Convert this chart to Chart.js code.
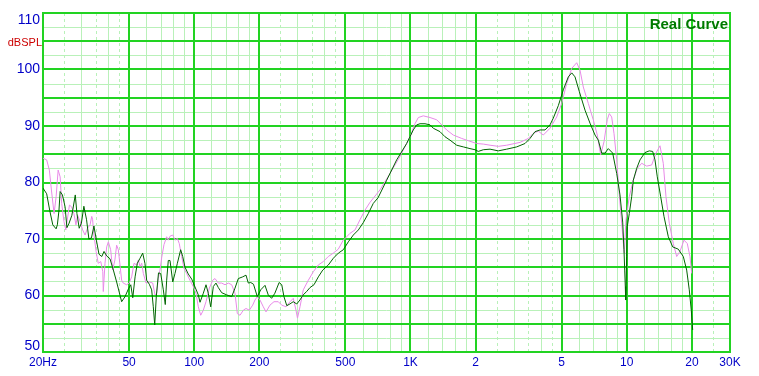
<!DOCTYPE html>
<html>
<head>
<meta charset="utf-8">
<script src="https://cdn.jsdelivr.net/npm/chart.js@4"></script>
<style>
  html, body { margin: 0; padding: 0; background: #fff; }
  #wrap { width: 759px; height: 376px; }
</style>
</head>
<body>
<div id="wrap"><canvas id="grafico" width="759" height="376"></canvas></div>
<script>
// curva verde (escura)
const greenFreq = [
  20, 20.8, 21.5, 22.2, 23.0, 23.3, 23.7, 24.0, 24.6, 25.3,
  25.8, 26.4, 27.2, 28.2, 28.7, 29.4, 30.1, 30.9, 31.8, 32.6,
  33.5, 34.4, 35.3, 36.3, 37.4, 38.3, 39.4, 40.8, 42.3, 43.8,
  46.2, 47.9, 49.7, 50.9, 52.0, 53.3, 54.6, 56.2, 57.8, 59.2,
  60.3, 62.0, 63.6, 64.7, 65.7, 66.8, 68.4, 70.0, 72.0, 73.5,
  74.6, 75.9, 77.3, 79.6, 81.5, 83.6, 86.6, 88.5, 90.7, 93.9,
  97.4, 100.9, 104.5, 106.4, 110.2, 113.4, 116.2, 119.2, 122.6, 126.1,
  129.3, 134.0, 141.4, 149.1, 154.4, 160.0, 167.6, 173.6, 177.9, 182.5,
  188.0, 195.8, 203, 212.5, 220, 228, 236, 247, 254, 260,
  268, 277, 287, 298, 308, 319, 331, 343, 358, 375,
  393, 417, 440, 464, 489, 516, 544, 574, 605, 638,
  673, 708, 776, 863, 960, 1030, 1068, 1107, 1167, 1231,
  1275, 1369, 1444, 1523, 1635, 1755, 1884, 1987, 2058, 2171,
  2332, 2546, 2784, 3097, 3384, 3569, 3764, 3970, 4187, 4416,
  4574, 4824, 5088, 5366, 5566, 5762, 6032, 6410, 6760, 7130,
  7384, 7656, 7930, 8212, 8606, 8982, 9302, 9572, 9706, 9780,
  9840, 9884, 9988, 10052, 10268, 10534, 10716, 11110, 11508, 12138,
  12704, 13172, 13500, 13834, 14344, 14858, 15556, 16302, 17300, 18250,
  18918, 19446, 19866, 20166
];
const greenDb = [
  79.0, 78.0, 75.0, 72.5, 71.8, 72.5, 75.0, 78.4, 77.8, 75.7,
  72.0, 72.8, 74.2, 77.8, 74.5, 71.9, 72.8, 75.8, 73.4, 70.0,
  70.2, 72.3, 69.8, 67.3, 66.9, 67.8, 67.0, 66.5, 64.5, 62.4,
  58.9, 59.8, 61.2, 61.9, 59.6, 63.3, 65.7, 66.6, 67.5, 65.7,
  62.7, 62.0, 61.0, 58.0, 54.8, 59.8, 64.0, 63.9, 61.0, 58.4,
  62.7, 66.2, 66.2, 62.4, 63.9, 65.7, 68.1, 66.9, 65.0, 63.8,
  62.9, 61.5, 60.1, 58.8, 60.4, 61.9, 60.4, 58.0, 61.6, 62.2,
  61.4, 60.5, 60.1, 59.8, 61.3, 63.0, 63.3, 63.6, 62.2, 62.3,
  62.0, 59.8, 61.0, 61.8, 60.1, 59.5, 60.4, 62.3, 61.9, 59.8,
  58.2, 58.5, 58.9, 58.5, 59.2, 60.1, 60.7, 61.4, 61.9, 63.3,
  64.5, 65.4, 66.6, 67.5, 68.1, 69.5, 70.7, 71.6, 72.9, 74.5,
  76.3, 77.3, 80.4, 84.0, 86.9, 89.3, 90.2, 90.4, 90.4, 90.2,
  89.6, 89.0, 88.1, 87.5, 86.6, 86.3, 86.0, 85.8, 85.5, 85.8,
  85.9, 85.6, 85.9, 86.3, 86.9, 87.8, 89.0, 89.3, 89.3, 90.2,
  91.4, 93.6, 96.4, 98.7, 99.4, 98.7, 96.1, 92.8, 90.5, 88.4,
  87.5, 85.2, 85.2, 86.0, 85.2, 81.6, 77.8, 73.0, 68.1, 64.5,
  61.6, 59.2, 66.9, 72.2, 74.5, 77.5, 80.4, 82.5, 84.0, 85.3,
  85.6, 85.5, 84.0, 81.0, 77.5, 74.0, 70.4, 68.6, 68.2, 66.9,
  64.5, 61.0, 57.4, 53.9
];

// curva rosa
const pinkFreq = [
  20.0, 20.8, 21.4, 21.9, 22.5, 23.0, 23.5, 24.0, 24.4, 25.0,
  25.5, 26.5, 27.1, 27.8, 28.4, 28.9, 29.7, 30.5, 31.3, 32.1,
  33.0, 33.6, 33.9, 34.4, 35.2, 36.0, 37.0, 37.8, 38.0, 38.7,
  39.4, 40.1, 41.1, 42.0, 43.0, 43.8, 44.6, 45.4, 46.2, 47.0,
  48.7, 50.1, 51.4, 52.7, 54.2, 55.2, 56.2, 57.2, 58.2, 59.9,
  62.0, 64.3, 65.9, 67.1, 68.2, 69.5, 70.8, 72.5, 74.6, 75.9,
  77.3, 79.6, 81.5, 83.6, 85.3, 87.5, 89.7, 92.3, 95.6, 99.0,
  101.9, 104.5, 107.2, 110.2, 113.4, 117.5, 121.8, 124.8, 129.3, 134.0,
  138.8, 143.8, 149.1, 154.4, 158.3, 162.9, 168.7, 173.6, 179.8, 186.4,
  191.0, 195.8, 201.5, 208.7, 214.8, 224.1, 233.8, 244.8, 253.8, 265.8,
  277.3, 287.2, 295.5, 300.3, 308.4, 319.4, 337.0, 355.4, 374.8, 395.2,
  416.8, 439.6, 463.6, 489.0, 507, 525, 554, 584, 616, 650,
  723, 804, 894, 995, 1049, 1087, 1146, 1231, 1322, 1394,
  1470, 1577, 1725, 1850, 2023, 2171, 2332, 2546, 2784, 2946,
  3209, 3504, 3696, 3898, 4111, 4416, 4742, 5000, 5272, 5566,
  5866, 6076, 6294, 6638, 6998, 7304, 7572, 7846, 8122, 8300,
  8514, 8726, 8982, 9232, 9470, 9632, 9736, 9914, 10268, 10716,
  11180, 11720, 12360, 13032, 13644, 14238, 14744, 15174, 15720, 16404,
  17008, 17618, 18380, 19036, 19594, 19950
];
const pinkDb = [
  84.3, 84.0, 82.2, 78.5, 74.5, 77.5, 82.2, 81.0, 76.3, 73.1,
  71.6, 76.0, 75.7, 74.5, 72.5, 74.2, 73.1, 71.6, 70.7, 71.9,
  72.5, 74.0, 73.5, 70.7, 67.8, 65.7, 66.0, 64.2, 60.7, 65.7,
  68.6, 69.5, 68.1, 64.5, 66.3, 68.9, 68.1, 65.4, 62.7, 62.2,
  61.9, 62.2, 63.3, 65.7, 65.4, 66.3, 65.1, 65.7, 63.9, 62.2,
  62.4, 62.2, 60.1, 60.4, 63.0, 64.5, 66.8, 69.0, 70.4, 69.8,
  70.5, 70.7, 69.8, 70.1, 69.2, 66.9, 64.8, 63.9, 62.7, 61.6,
  60.4, 58.0, 56.5, 57.4, 58.9, 61.3, 62.7, 63.0, 62.2, 62.2,
  61.9, 62.2, 61.9, 60.4, 56.8, 56.5, 57.4, 57.7, 57.4, 58.3,
  59.2, 59.8, 59.2, 58.0, 57.1, 58.3, 58.9, 58.9, 58.3, 58.0,
  58.9, 59.5, 57.4, 56.0, 58.0, 61.0, 62.7, 64.2, 65.4, 66.0,
  66.9, 67.5, 68.2, 69.8, 70.4, 71.0, 71.6, 73.4, 75.1, 76.5,
  78.7, 81.6, 84.6, 88.1, 90.4, 91.5, 91.8, 91.5, 91.1, 90.2,
  89.3, 88.4, 87.8, 87.4, 86.9, 86.8, 86.6, 86.4, 86.6, 86.8,
  87.1, 87.8, 88.7, 89.1, 88.4, 89.6, 91.6, 94.0, 97.5, 100.2,
  101.2, 99.9, 96.9, 94.0, 91.1, 88.4, 84.9, 87.2, 91.1, 92.2,
  91.6, 88.7, 84.0, 77.8, 72.8, 69.5, 67.5, 73.4, 77.5, 80.4,
  82.5, 83.4, 82.9, 83.1, 85.2, 86.5, 83.4, 77.5, 72.8, 69.2,
  66.9, 67.8, 69.8, 69.2, 66.9, 63.9
];

const xTicks = [20, 50, 100, 200, 500, 1000, 2000, 5000, 10000, 20000, 30000];
const xTickLabels = ['20Hz', '50', '100', '200', '500', '1K', '2', '5', '10', '20', '30K'];
const yTicks = [50, 60, 70, 80, 90, 100, 110];

const VERDE_FORTE = '#22d322';
const VERDE_CLARO = '#b9f1b9';
const AZUL = '#0000c8';

// grade do fundo (linhas maiores, menores e tracejadas)
const gradePlugin = {
  id: 'grade',
  beforeDatasetsDraw(chart) {
    const { ctx, chartArea: a, scales: { x, y } } = chart;
    const px = v => Math.round(x.getPixelForValue(v)) + 0.5;
    const py = v => Math.round(y.getPixelForValue(v)) + 0.5;
    ctx.save();
    ctx.lineWidth = 1;

    // horizontais menores a cada 2.5 dB
    ctx.strokeStyle = VERDE_CLARO;
    for (let v = 52.5; v < 110; v += 5) {
      ctx.beginPath(); ctx.moveTo(a.left, py(v)); ctx.lineTo(a.right, py(v)); ctx.stroke();
    }

    // verticais menores
    const solidas = [1.2, 1.4, 1.6, 1.8, 3, 4, 6, 7, 8, 9];
    const tracejadas = [2.5, 3.5, 4.5];
    [10, 100, 1000, 10000].forEach(dec => {
      solidas.forEach(m => {
        const f = m * dec;
        if (f <= 20 || f >= 30000) return;
        ctx.beginPath(); ctx.moveTo(px(f), a.top); ctx.lineTo(px(f), a.bottom); ctx.stroke();
      });
    });
    ctx.setLineDash([3, 3]);
    [10, 100, 1000, 10000].forEach(dec => {
      tracejadas.forEach(m => {
        const f = m * dec;
        if (f <= 20 || f >= 30000) return;
        ctx.beginPath(); ctx.moveTo(px(f), a.top); ctx.lineTo(px(f), a.bottom); ctx.stroke();
      });
    });
    ctx.setLineDash([]);

    // linhas maiores, 2px
    const qx = v => Math.round(x.getPixelForValue(v));
    const qy = v => Math.round(y.getPixelForValue(v));
    ctx.strokeStyle = VERDE_FORTE;
    ctx.lineWidth = 2;
    for (let v = 55; v < 110; v += 5) {
      ctx.beginPath(); ctx.moveTo(a.left, qy(v)); ctx.lineTo(a.right, qy(v)); ctx.stroke();
    }
    xTicks.slice(1, -1).forEach(f => {
      ctx.beginPath(); ctx.moveTo(qx(f), a.top); ctx.lineTo(qx(f), a.bottom); ctx.stroke();
    });
    ctx.strokeRect(Math.round(a.left), Math.round(a.top),
      Math.round(a.right - a.left), Math.round(a.bottom - a.top));
    ctx.restore();
  },
  afterDraw(chart) {
    const { ctx, chartArea: a, scales: { y } } = chart;
    ctx.save();
    ctx.font = '14px "Liberation Sans", Arial, sans-serif';
    ctx.fillStyle = AZUL;
    ctx.textAlign = 'right';
    ctx.textBaseline = 'middle';
    yTicks.forEach(v => {
      let p = y.getPixelForValue(v);
      p = Math.min(Math.max(p, a.top + 7), a.bottom - 6);
      ctx.fillText(String(v), 40, p);
    });

    ctx.font = '11px "Liberation Sans", Arial, sans-serif';
    ctx.fillStyle = '#cc0000';
    ctx.textBaseline = 'alphabetic';
    ctx.fillText('dBSPL', 42, 46);

    ctx.font = 'bold 15px "Liberation Sans", Arial, sans-serif';
    ctx.fillStyle = '#007a00';
    ctx.fillText('Real Curve', 728, 29);
    ctx.restore();
  }
};

const ctxGrafico = document.getElementById('grafico').getContext('2d');
new Chart(ctxGrafico, {
  type: 'line',
  data: {
    datasets: [
      {
        label: 'verde',
        data: greenFreq.map((f, i) => ({ x: f, y: greenDb[i] })),
        borderColor: '#006400',
        borderWidth: 1,
        pointRadius: 0,
        tension: 0,
        fill: false
      },
      {
        label: 'rosa',
        data: pinkFreq.map((f, i) => ({ x: f, y: pinkDb[i] })),
        borderColor: '#e88ae8',
        borderWidth: 1,
        pointRadius: 0,
        tension: 0,
        fill: false
      }
    ]
  },
  options: {
    responsive: false,
    animation: false,
    layout: { padding: { top: 13, right: 29, bottom: 0, left: 0 } },
    plugins: {
      legend: { display: false },
      tooltip: { enabled: false }
    },
    scales: {
      x: {
        type: 'logarithmic',
        min: 20,
        max: 30000,
        grid: { display: false, drawTicks: false },
        border: { display: false },
        afterBuildTicks: scale => { scale.ticks = xTicks.map(v => ({ value: v })); },
        afterFit: scale => { scale.height = 24; },
        ticks: {
          autoSkip: false,
          maxRotation: 0,
          padding: 3,
          color: AZUL,
          font: { family: '"Liberation Sans Narrow", "Liberation Sans", Arial, sans-serif', size: 12 },
          callback: (v, i) => xTickLabels[i]
        }
      },
      y: {
        type: 'linear',
        min: 50,
        max: 110,
        grid: { display: false },
        border: { display: false },
        ticks: { display: false },
        afterFit: scale => { scale.width = 43; }
      }
    }
  },
  plugins: [gradePlugin]
});
</script>
</body>
</html>
